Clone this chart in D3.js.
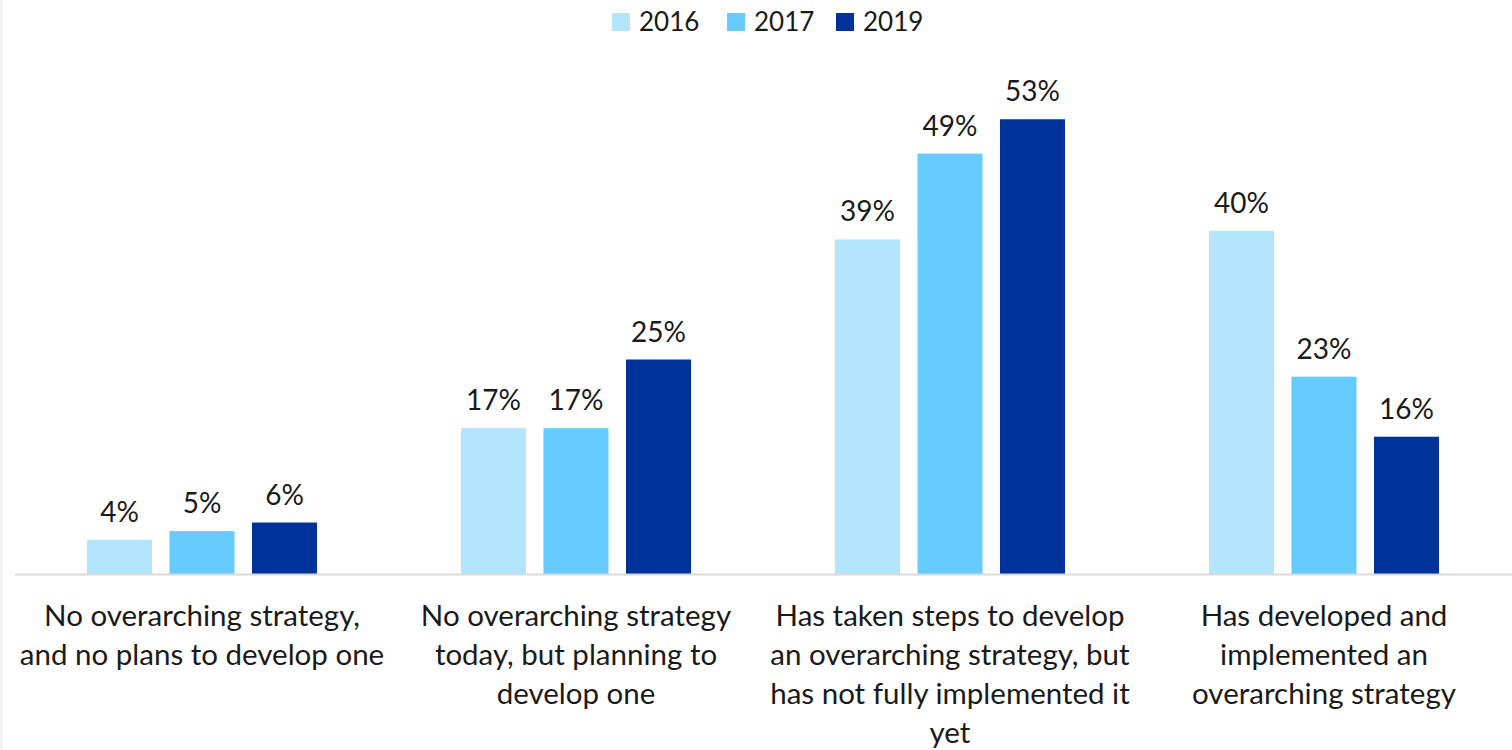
<!DOCTYPE html>
<html>
<head>
<meta charset="utf-8">
<script src="https://cdn.jsdelivr.net/npm/d3@7"></script>
<style>
  body { margin: 0; background: #fff; }
  svg { display: block; font-family: Lato, "Open Sans", sans-serif; }
</style>
</head>
<body>
<svg id="chart" width="1512" height="750"></svg>
<script>
var categories = [
  ["No overarching strategy,", "and no plans to develop one"],
  ["No overarching strategy", "today, but planning to", "develop one"],
  ["Has taken steps to develop", "an overarching strategy, but", "has not fully implemented it", "yet"],
  ["Has developed and", "implemented an", "overarching strategy"]
];
var years = ["2016", "2017", "2019"];
var values2016 = [4, 17, 39, 40];
var values2017 = [5, 17, 49, 23];
var values2019 = [6, 25, 53, 16];
var colors = ["#b3e5fc", "#66ccff", "#003399"];

var series = [values2016, values2017, values2019];
var svg = d3.select("svg#chart");
var baseY = 574;

// left edge shading like the source
svg.append("rect").attr("x", 0).attr("y", 0).attr("width", 3).attr("height", 750).attr("fill", "#f2f2f2");

var catScale = d3.scaleBand()
  .domain(d3.range(categories.length))
  .range([15, 1511]);

var yearScale = d3.scaleBand()
  .domain(years)
  .range([-115, 115])
  .paddingInner(0.212);

var yScale = d3.scaleLinear()
  .domain([0, 60])
  .range([baseY, baseY - 8.58 * 60]);

var groups = svg.selectAll("g.cat")
  .data(categories)
  .enter().append("g")
  .attr("class", "cat")
  .attr("transform", function(d, i) {
    return "translate(" + (catScale(i) + catScale.bandwidth() / 2) + ",0)";
  });

groups.each(function(cat, i) {
  var g = d3.select(this);
  years.forEach(function(yr, j) {
    var v = series[j][i];
    g.append("rect")
      .attr("x", yearScale(yr))
      .attr("y", yScale(v))
      .attr("width", yearScale.bandwidth())
      .attr("height", baseY - yScale(v))
      .attr("fill", colors[j]);
    g.append("text")
      .attr("x", yearScale(yr) + yearScale.bandwidth() / 2)
      .attr("y", yScale(v) - 18)
      .attr("text-anchor", "middle")
      .attr("font-size", 28)
      .attr("fill", "#1a1a1a")
      .text(v + "%");
  });
  var t = g.append("text")
    .attr("text-anchor", "middle")
    .attr("font-size", 29.5)
    .attr("fill", "#1a1a1a");
  cat.forEach(function(line, k) {
    t.append("tspan").attr("x", 0).attr("y", 626 + k * 39).text(line);
  });
});

// baseline
svg.append("line")
  .attr("x1", 15).attr("x2", 1512)
  .attr("y1", baseY + 0.5).attr("y2", baseY + 0.5)
  .attr("stroke", "#d9d9d9").attr("stroke-width", 2);

// legend
var legendX = [612, 727, 836];
var legend = svg.append("g").attr("class", "legend");
years.forEach(function(yr, j) {
  legend.append("rect")
    .attr("x", legendX[j]).attr("y", 13)
    .attr("width", 18).attr("height", 18)
    .attr("fill", colors[j]);
  legend.append("text")
    .attr("x", legendX[j] + 27).attr("y", 31)
    .attr("font-size", 26)
    .attr("fill", "#1a1a1a")
    .text(yr);
});
</script>
</body>
</html>
